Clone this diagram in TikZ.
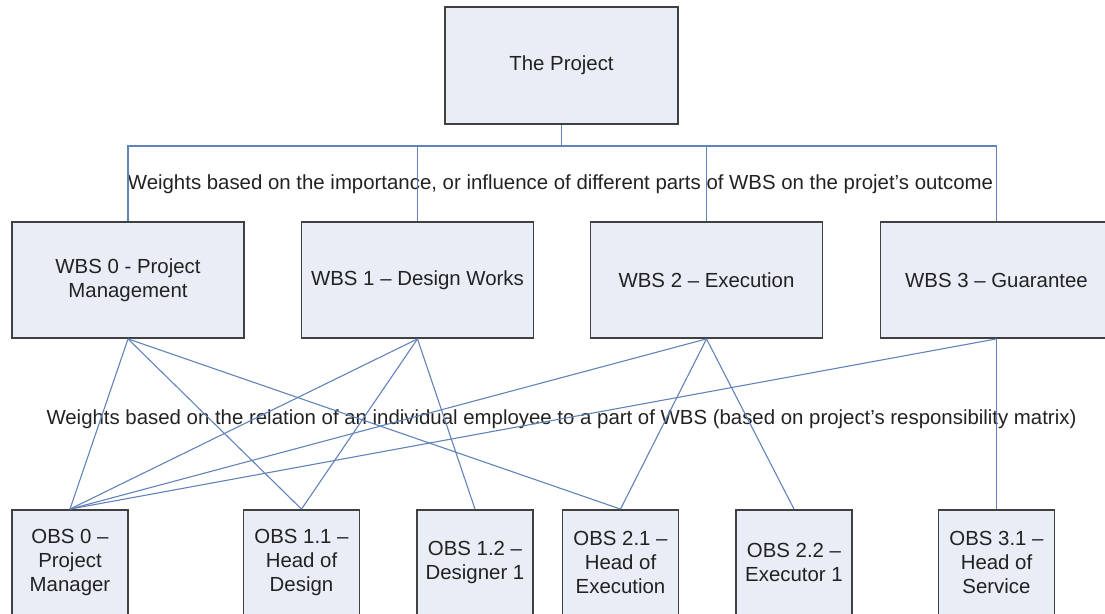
\documentclass[tikz,border=0pt]{standalone}
\usepackage{fontspec}
\setmainfont{Liberation Sans}
\definecolor{boxfill}{HTML}{E8EDF6}
\definecolor{boxline}{HTML}{404040}
\definecolor{linkc}{HTML}{6283BA}
\definecolor{txt}{HTML}{222222}
\begin{document}
\begin{tikzpicture}[x=0.5pt,y=-0.5pt,
  box/.style={draw=boxline, fill=boxfill, line width=0.9pt, inner sep=0pt,
    align=center, font=\fontsize{10.2}{12.2}\selectfont, text=txt},
  wbs/.style={box, minimum width=116pt, minimum height=58pt},
  obs/.style={box, minimum width=58pt, minimum height=52.5pt},
  lbl/.style={inner sep=0pt, font=\fontsize{10.2}{12.2}\selectfont, text=txt},
  conn/.style={draw=linkc, line width=0.55pt}]
\useasboundingbox (0,0) rectangle (1105,614);
\clip (0,0) rectangle (1105,614);
% labels
\node[lbl] (l1) at (560.5,184) {Weights based on the importance, or influence of different parts of WBS on the projet's outcome};
\node[lbl] (l2) at (561.5,419) {Weights based on the relation of an individual employee to a part of WBS (based on project's responsibility matrix)};
% boxes
\node[box, minimum width=116.5pt, minimum height=58.5pt] (top) at (561.5,65.5) {The Project};
\node[wbs] (w0) at (128,280) {WBS 0 - Project\\Management};
\node[wbs] (w1) at (417.5,280) {WBS 1 -- Design Works};
\node[wbs] (w2) at (706.5,280) {WBS 2 -- Execution};
\node[wbs] (w3) at (996.5,280) {WBS 3 -- Guarantee};
\node[obs] (o0) at (70,562.5) {OBS 0 --\\Project\\Manager};
\node[obs] (o11) at (301.5,562.5) {OBS 1.1 --\\Head of\\Design};
\node[obs] (o12) at (475,562.5) {OBS 1.2 --\\Designer 1};
\node[obs] (o21) at (620.5,562.5) {OBS 2.1 --\\Head of\\Execution};
\node[obs] (o22) at (794,562.5) {OBS 2.2 --\\Executor 1};
\node[obs] (o31) at (996.5,562.5) {OBS 3.1 --\\Head of\\Service};
% bus
\coordinate (bus) at (0,146);
\draw[conn] (top.south) -- (top.south |- bus);
\draw[conn] (w0.north) -- (w0.north |- bus) -- (w3.north |- bus) -- (w3.north);
\draw[conn] (w1.north) -- (w1.north |- bus);
\draw[conn] (w2.north) -- (w2.north |- bus);
% WBS -> OBS
\draw[conn] (w0.south) -- (o0.north);
\draw[conn] (w0.south) -- (o11.north);
\draw[conn] (w0.south) -- (o21.north);
\draw[conn] (w1.south) -- (o0.north);
\draw[conn] (w1.south) -- (o11.north);
\draw[conn] (w1.south) -- (o12.north);
\draw[conn] (w2.south) -- (o0.north);
\draw[conn] (w2.south) -- (o21.north);
\draw[conn] (w2.south) -- (o22.north);
\draw[conn] (w3.south) -- (o0.north);
\draw[conn] (w3.south) -- (o31.north);
\end{tikzpicture}
\end{document}
